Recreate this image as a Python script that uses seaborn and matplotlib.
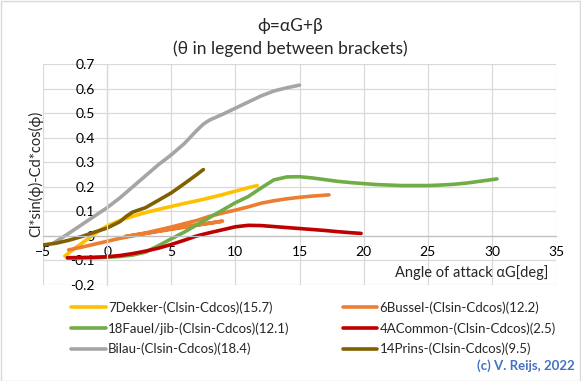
import matplotlib
matplotlib.use("Agg")
import matplotlib.pyplot as plt
import matplotlib.ticker as mticker
from matplotlib.patches import Rectangle
import pandas as pd
import seaborn as sns

# series in Excel order
names = ["7Dekker-(Clsin-Cdcos)(15.7)", "6Bussel-(Clsin-Cdcos)(12.2)",
         "18Fauel/jib-(Clsin-Cdcos)(12.1)", "4ACommon-(Clsin-Cdcos)(2.5)",
         "Bilau-(Clsin-Cdcos)(18.4)", "14Prins-(Clsin-Cdcos)(9.5)"]
colors = ["#FFC000", "#ED7D31", "#70AD47", "#C00000", "#A5A5A5", "#806000"]

dekker_x = [-3.3, -2.5, -1.5, -0.5, 0, 1, 2, 3, 4, 5, 6, 7, 8, 9, 10, 11, 11.7]
dekker_y = [-0.082, -0.05, -0.012, 0.025, 0.04, 0.063, 0.08, 0.095, 0.108, 0.12,
            0.132, 0.143, 0.155, 0.168, 0.182, 0.196, 0.205]

# Bussel data runs to 9 deg, then restarts at 1.4 deg
bussel_x = [-3, -2, -1, 0, 1, 2, 3, 4, 5, 6, 7, 8, 9,
            1.4, 3, 5, 7, 8, 9, 10, 11, 12, 13, 14, 15, 16, 17.3]
bussel_y = [-0.057, -0.046, -0.034, -0.022, -0.01, 0.0, 0.01, 0.02, 0.029, 0.037,
            0.045, 0.052, 0.06,
            -0.003, 0.012, 0.036, 0.063, 0.08, 0.093, 0.105, 0.118, 0.133, 0.143,
            0.151, 0.157, 0.162, 0.167]

fauel_x = [-3.1, -2, -1, 0, 1, 2, 3, 4, 5, 6, 7, 8, 9, 10, 11, 12, 13, 14, 15, 16,
           17, 18, 19, 20, 21, 22, 23, 24, 25, 26, 27, 28, 29, 30.4]
fauel_y = [-0.09, -0.09, -0.089, -0.087, -0.084, -0.078, -0.066, -0.04, -0.012,
           0.015, 0.045, 0.075, 0.105, 0.135, 0.16, 0.195, 0.228, 0.24, 0.241, 0.236,
           0.229, 0.222, 0.217, 0.213, 0.209, 0.207, 0.205, 0.205, 0.205, 0.207,
           0.21, 0.215, 0.222, 0.232]

common_x = [-3.1, -2, -1, 0, 1, 2, 3, 4, 5, 6, 7, 8, 9, 10, 11, 12, 13, 14, 15,
            16, 17, 18, 19, 19.8]
common_y = [-0.089, -0.088, -0.087, -0.085, -0.08, -0.072, -0.062, -0.05, -0.035,
            -0.018, 0.0, 0.013, 0.025, 0.037, 0.043, 0.042, 0.038, 0.034, 0.03,
            0.026, 0.022, 0.017, 0.013, 0.01]

bilau_x = [-4.2, -3, -2, -1, 0, 1, 2, 3, 4, 5, 6, 7, 7.5, 8, 9, 10, 11, 12, 13,
           14, 15]
bilau_y = [-0.03, 0.01, 0.045, 0.08, 0.115, 0.155, 0.2, 0.245, 0.29, 0.33, 0.375,
           0.43, 0.455, 0.472, 0.495, 0.52, 0.545, 0.57, 0.59, 0.603, 0.614]

prins_x = [-5, -4, -3, -2, -1, 0, 1, 1.5, 2, 3, 4, 5, 6, 7, 7.5]
prins_y = [-0.037, -0.03, -0.018, -0.003, 0.015, 0.032, 0.058, 0.08, 0.097, 0.115,
           0.145, 0.175, 0.212, 0.25, 0.27]

xs = [dekker_x, bussel_x, fauel_x, common_x, bilau_x, prins_x]
ys = [dekker_y, bussel_y, fauel_y, common_y, bilau_y, prins_y]

frames = []
for n, x, y in zip(names, xs, ys):
    frames.append(pd.DataFrame({"aoa": x, "val": y, "serie": n}))
df = pd.concat(frames, ignore_index=True)

sns.set_style("white")
plt.rcParams["font.family"] = ["Lato", "DejaVu Sans"]

fig = plt.figure(figsize=(5.81, 3.81), dpi=100)
ax = fig.add_axes([43 / 581, 96 / 381, 513 / 581, 221 / 381])

sns.lineplot(data=df, x="aoa", y="val", hue="serie", hue_order=names,
             palette=dict(zip(names, colors)), sort=False, estimator=None,
             linewidth=2.6, ax=ax, legend=True)

ax.set_xlim(-5, 35)
ax.set_ylim(-0.2, 0.7)
ax.xaxis.set_major_locator(mticker.MultipleLocator(5))
ax.yaxis.set_major_locator(mticker.MultipleLocator(0.1))
ax.yaxis.set_major_formatter(mticker.FuncFormatter(lambda v, p: f"{v:g}" if abs(v) > 1e-9 else "0"))
ax.grid(True, color="#D9D9D9", linewidth=0.9)
ax.set_axisbelow(True)

for s in ["top", "right"]:
    ax.spines[s].set_visible(False)
ax.spines["left"].set_position(("data", 0))
ax.spines["bottom"].set_position(("data", 0))
ax.spines["left"].set_color("#D9D9D9")
ax.spines["bottom"].set_color("#BFBFBF")
ax.spines["left"].set_linewidth(0.9)
ax.spines["bottom"].set_linewidth(0.9)
ax.tick_params(length=0, labelsize=10, colors="black", pad=7)
ax.tick_params(axis="y", pad=9)

ax.set_xlabel("")
ax.set_ylabel("")
fig.text(36 / 581, 1 - 174 / 381, "Cl*sin(ϕ)-Cd*cos(ϕ)", rotation=90,
         ha="center", va="center", fontsize=10.5)
fig.text(548 / 581, 1 - 273 / 381, "Angle of attack αG[deg]", ha="right",
         va="center", fontsize=10.5)

fig.text(0.5, 1 - 26 / 381, "ϕ=αG+β", ha="center", va="center", fontsize=12.5)
fig.text(0.5, 1 - 49 / 381, "(θ in legend between brackets)", ha="center",
         va="center", fontsize=12.5)

handles, labels = ax.get_legend_handles_labels()
ax.get_legend().remove()
lookup = dict(zip(labels, handles))
order = [names[0], names[2], names[4], names[1], names[3], names[5]]
fig.legend([lookup[n] for n in order], order, loc="upper left",
           bbox_to_anchor=(66 / 581, 1 - 296 / 381), ncol=2, frameon=False,
           fontsize=9.5, handlelength=2.6, handletextpad=0.2, columnspacing=4.0,
           labelspacing=0.62, borderaxespad=0)

fig.text(575 / 581, 1 - 366 / 381, "(c) V. Reijs, 2022", ha="right", va="center",
         fontsize=9.5, fontweight="bold", color="#4472C4")

fig.patches.append(Rectangle((0.001, 0.001), 0.997, 0.996, transform=fig.transFigure,
                             fill=False, edgecolor="#D9D9D9", linewidth=1))

fig.savefig("out.png", dpi=100)
